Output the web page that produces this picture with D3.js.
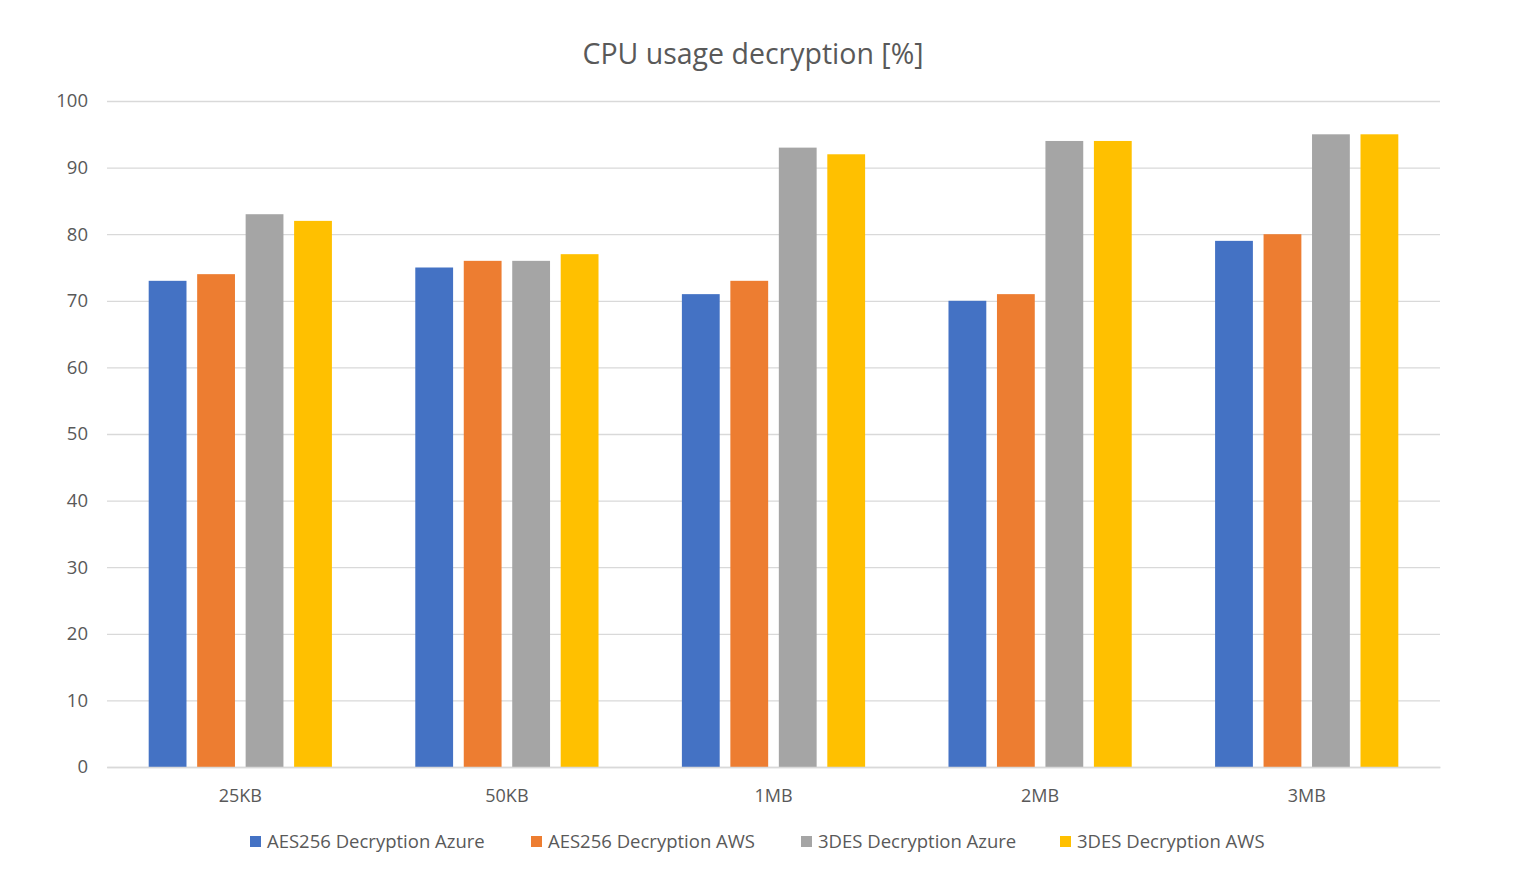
<!DOCTYPE html>
<html><head><meta charset="utf-8">
<script src="https://cdn.jsdelivr.net/npm/d3@7"></script>
<style>body{margin:0;background:#fff;} svg text{font-family:"Open Sans","Noto Sans",sans-serif;}</style>
</head><body>
<svg id="c" width="1531" height="885"></svg>
<script>
const categories = ["25KB","50KB","1MB","2MB","3MB"];
const seriesNames = ["AES256 Decryption Azure","AES256 Decryption AWS","3DES Decryption Azure","3DES Decryption AWS"];
const aesAzure = [73,75,71,70,79];
const aesAws = [74,76,73,71,80];
const desAzure = [83,76,93,94,95];
const desAws = [82,77,92,94,95];
const yTicks = [0,10,20,30,40,50,60,70,80,90,100];
const colors = ["#4472c4","#ed7d31","#a5a5a5","#ffc000"];
const seriesValues = [aesAzure, aesAws, desAzure, desAws];

const svg = d3.select("#c");
const L = 107, R = 1440, T = 101, B = 767;
const y = d3.scaleLinear().domain([0,100]).range([B,T]);
const x0 = d3.scaleBand().domain(categories).range([L,R]).padding(0);
const x1 = d3.scaleBand().domain(d3.range(4)).range([0,x0.bandwidth()]).paddingInner(0.22).paddingOuter(0.86);

svg.append("text").attr("x",753).attr("y",64).attr("text-anchor","middle")
  .attr("font-size",28.5).attr("fill","#595959").text("CPU usage decryption [%]");

const yAxis = svg.append("g").attr("transform",`translate(${L},0)`)
  .call(d3.axisLeft(y).tickValues(yTicks).tickSize(-(R-L)).tickPadding(19));
yAxis.attr("font-family",null).attr("font-size",null);
yAxis.select(".domain").remove();
yAxis.selectAll(".tick line").attr("stroke","#d9d9d9").attr("stroke-width",1.3);
yAxis.selectAll(".tick text").attr("fill","#595959").attr("font-size",18.5);

const g = svg.append("g");
categories.forEach((c,ci)=>{
  seriesValues.forEach((vals,si)=>{
    g.append("rect").attr("x",x0(c)+x1(si)).attr("width",x1.bandwidth())
      .attr("y",y(vals[ci])).attr("height",y(0)-y(vals[ci])).attr("fill",colors[si]);
  });
});

const xAxis = svg.append("g").attr("transform",`translate(0,${B})`)
  .call(d3.axisBottom(x0).tickSize(0).tickPadding(20));
xAxis.attr("font-family",null).attr("font-size",null);
xAxis.select(".domain").attr("stroke","#d9d9d9").attr("stroke-width",1.3);
xAxis.selectAll(".tick text").attr("fill","#595959").attr("font-size",18).attr("dy","0.85em");

const legX = [250,531,801,1060];
const leg = svg.append("g");
seriesNames.forEach((n,i)=>{
  leg.append("rect").attr("x",legX[i]).attr("y",836).attr("width",11).attr("height",11).attr("fill",colors[i]);
  leg.append("text").attr("x",legX[i]+17).attr("y",848).attr("font-size",18.5).attr("fill","#595959").text(n);
});
</script>
</body></html>
